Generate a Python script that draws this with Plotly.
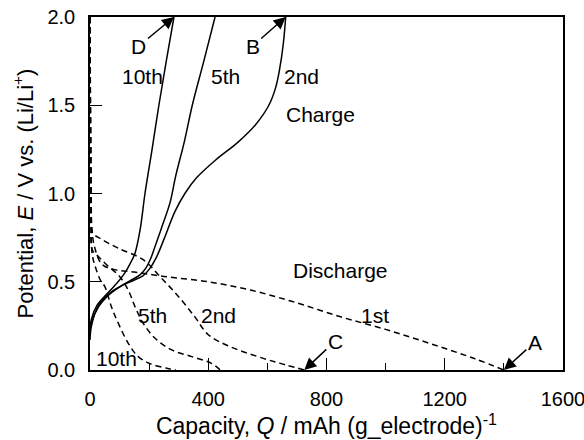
import plotly.graph_objects as go

# ---- data (capacity mAh/g, potential V) ----
dis1_q = [0, 2, 4, 6, 15, 40, 80, 150, 250, 400, 550, 700, 850, 1000, 1150, 1300, 1400]
dis1_e = [2.0, 1.4, 1.0, 0.82, 0.7, 0.6, 0.57, 0.555, 0.53, 0.5, 0.45, 0.38, 0.3, 0.23, 0.15, 0.065, 0.0]

dis2_q = [0, 2, 4, 8, 40, 96, 180, 242, 299, 355, 400, 473, 586, 660, 725]
dis2_e = [2.0, 1.3, 0.95, 0.78, 0.74, 0.69, 0.625, 0.52, 0.417, 0.3, 0.2, 0.133, 0.066, 0.03, 0.0]

dis5_q = [0, 2, 4, 8, 30, 60, 100, 130, 152, 180, 220, 276, 344, 411, 440]
dis5_e = [2.0, 1.2, 0.85, 0.68, 0.64, 0.59, 0.53, 0.45, 0.36, 0.265, 0.18, 0.114, 0.076, 0.038, 0.0]

dis10_q = [0, 2, 4, 8, 17, 35, 51, 72, 97, 130, 163, 205, 260, 290]
dis10_e = [2.0, 1.1, 0.78, 0.65, 0.59, 0.51, 0.47, 0.36, 0.26, 0.15, 0.076, 0.035, 0.01, 0.0]

chg2_q = [0, 5, 30, 70, 110, 150, 180, 200, 225, 250, 288, 321, 361, 425, 500, 560, 605, 628, 641, 654, 662]
chg2_e = [0.17, 0.25, 0.37, 0.44, 0.48, 0.51, 0.535, 0.57, 0.64, 0.74, 0.9, 1.0, 1.09, 1.19, 1.29, 1.39, 1.5, 1.6, 1.7, 1.85, 2.0]

chg5_q = [0, 5, 30, 60, 100, 140, 170, 190, 205, 220, 245, 271, 290, 320, 346, 385, 423]
chg5_e = [0.2, 0.27, 0.36, 0.42, 0.47, 0.51, 0.54, 0.58, 0.63, 0.7, 0.82, 0.95, 1.1, 1.3, 1.5, 1.75, 2.0]

chg10_q = [0, 5, 25, 51, 90, 118, 135, 152, 170, 186, 210, 233, 258, 284]
chg10_e = [0.22, 0.29, 0.37, 0.42, 0.49, 0.55, 0.6, 0.66, 0.8, 1.0, 1.25, 1.5, 1.75, 2.0]

x_ticks = [0, 400, 800, 1200, 1600]
y_ticks = [0.0, 0.5, 1.0, 1.5, 2.0]

FONT = "Liberation Sans, Arial, sans-serif"

fig = go.Figure()
dash_style = dict(color="black", width=1.5, dash="6px,4px")
solid_style = dict(color="black", width=1.5)
for q, e in [(dis1_q, dis1_e), (dis2_q, dis2_e), (dis5_q, dis5_e), (dis10_q, dis10_e)]:
    fig.add_trace(go.Scatter(x=q, y=e, mode="lines", line=dash_style, line_shape="spline", showlegend=False))
for q, e in [(chg2_q, chg2_e), (chg5_q, chg5_e), (chg10_q, chg10_e)]:
    fig.add_trace(go.Scatter(x=q, y=e, mode="lines", line=solid_style, line_shape="spline", showlegend=False))

ann = []
def label(x, y, t):
    ann.append(dict(x=x, y=y, text=t, showarrow=False, font=dict(size=21, color="black", family=FONT)))

label(176, 1.665, "10th")
label(457, 1.665, "5th")
label(717, 1.665, "2nd")
label(778, 1.45, "Charge")
label(846, 0.565, "Discharge")
label(964, 0.31, "1st")
label(213, 0.31, "5th")
label(433, 0.31, "2nd")
label(91, 0.065, "10th")

def arrow(x, y, t, ax, ay):
    ann.append(dict(x=x, y=y, text=t, showarrow=True, ax=ax, ay=ay, arrowhead=2, arrowsize=1.6,
                    arrowwidth=1.5, arrowcolor="black", standoff=0,
                    font=dict(size=21, color="black", family=FONT)))

arrow(chg10_q[-1], chg10_e[-1], "D", -35, 29)
arrow(chg2_q[-1], chg2_e[-1], "B", -33, 29)
arrow(dis2_q[-1], dis2_e[-1], "C", 31, -29)
arrow(dis1_q[-1], dis1_e[-1], "A", 31, -28)

fig.update_layout(
    width=584, height=440,
    margin=dict(l=90, r=21, t=17, b=70),
    paper_bgcolor="white", plot_bgcolor="white",
    font=dict(family=FONT, size=20, color="black"),
    annotations=ann,
    xaxis=dict(range=[0, 1600], tickvals=x_ticks, ticktext=[str(v) for v in x_ticks],
               ticks="inside", ticklen=12, tickwidth=1.2, tickcolor="black",
               minor=dict(dtick=200, ticks="inside", ticklen=7, tickwidth=1.2, tickcolor="black"),
               showline=True, linecolor="black", linewidth=1.5, mirror=True, automargin=False,
               showgrid=False, zeroline=False, ticklabelstandoff=10, ticklabeloverflow="allow",
               title=dict(text="Capacity, <i>Q</i> / mAh (g_electrode)<sup>-1</sup>",
                          font=dict(size=23), standoff=6)),
    yaxis=dict(range=[0, 2.0], tickvals=y_ticks, ticktext=["%.1f" % v for v in y_ticks],
               ticks="inside", ticklen=12, tickwidth=1.2, tickcolor="black",
               showline=True, linecolor="black", linewidth=1.5, mirror=True, automargin=False,
               showgrid=False, zeroline=False, ticklabelstandoff=9, ticklabeloverflow="allow",
               title=dict(text="Potential, <i>E</i> / V vs. (Li/Li<sup>+</sup>)",
                          font=dict(size=22), standoff=8)),
)

fig.write_html("out.html")
